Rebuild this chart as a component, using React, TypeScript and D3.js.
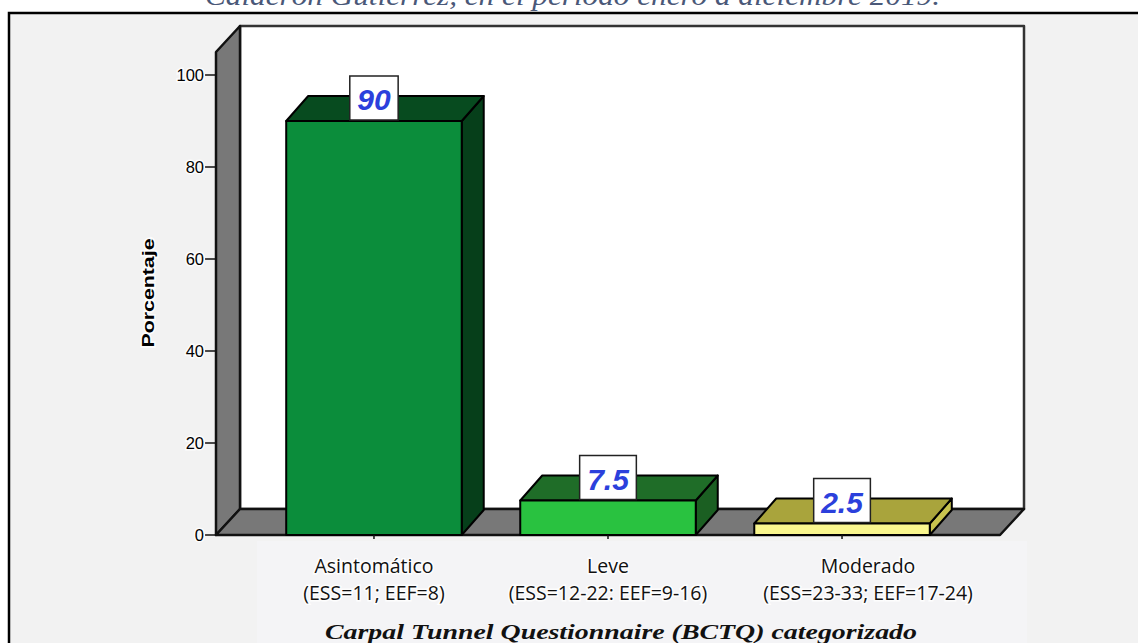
import React from "react";
import * as d3 from "d3";

const categories = ["Asintomático", "Leve", "Moderado"];
const subLabels = ["(ESS=11; EEF=8)", "(ESS=12-22: EEF=9-16)", "(ESS=23-33; EEF=17-24)"];
const values = [90, 7.5, 2.5];
const valueLabels = ["90", "7.5", "2.5"];
const yTicks = [0, 20, 40, 60, 80, 100];
const frontColors = ["#0b8d3b", "#29c240", "#f9f68e"];
const topColors = ["#074b1f", "#1f6d28", "#a9a43c"];
const sideColors = ["#063f1a", "#1b5f22", "#c8c34f"];

const W = 1138;
const H = 643;

export default function App() {
  const y = d3.scaleLinear().domain([0, 105]).range([535, 52]);
  const x = d3.scaleBand<string>().domain(categories).range([216, 1000]).paddingInner(0.25).paddingOuter(0.3);
  const wdx = 24, wdy = -26; // wall depth
  const bdx = 22, bdy = -25; // bar depth
  const y0 = y(0);
  const yTop = y(105);
  const xL = 216, xR = 1000;
  const bw = x.bandwidth();
  const pts = (a: number[][]) => a.map((p) => p.join(",")).join(" ");
  const halo = { stroke: "#fff", strokeWidth: 3, strokeOpacity: 0.85, paintOrder: "stroke" as const };
  const charW = (s: string) => s.split("").reduce((acc, c) => acc + (c === "." ? 0.278 : 0.556), 0);

  return (
    <svg width={W} height={H} style={{ position: "absolute", left: 0, top: 0 }}>
      <rect x={0} y={0} width={W} height={H} fill="#ffffff" />
      <text x={205} y={5} fontFamily="Liberation Serif, serif" fontStyle="italic" fontSize={27} fill="#4a5878" textLength={735} lengthAdjust="spacingAndGlyphs">
        Calderón Gutiérrez, en el periodo enero a diciembre 2019.
      </text>
      <rect x={9} y={13} width={W + 20} height={H + 20} fill="#f2f2f2" stroke="#000" strokeWidth={2.5} />
      <rect x={257} y={541} width={770} height={110} fill="#f4f4f6" />

      {/* back wall */}
      <polygon points={pts([[xL + wdx, yTop + wdy], [xR + wdx, yTop + wdy], [xR + wdx, y0 + wdy], [xL + wdx, y0 + wdy]])} fill="#ffffff" stroke="#333" strokeWidth={2.5} strokeLinejoin="round" />
      {/* left wall */}
      <polygon points={pts([[xL, yTop], [xL + wdx, yTop + wdy], [xL + wdx, y0 + wdy], [xL, y0]])} fill="#787878" stroke="#111" strokeWidth={2.5} strokeLinejoin="round" />
      {/* floor */}
      <polygon points={pts([[xL, y0], [xL + wdx, y0 + wdy], [xR + wdx, y0 + wdy], [xR, y0]])} fill="#787878" stroke="#111" strokeWidth={2.5} strokeLinejoin="round" />

      {/* y ticks */}
      {yTicks.map((t) => (
        <g key={t}>
          <line x1={205} x2={xL} y1={y(t)} y2={y(t)} stroke="#111" strokeWidth={1.5} />
          <text x={204} y={y(t) + 6} textAnchor="end" fontFamily="Liberation Sans, Arial, sans-serif" fontSize={16.5} fill="#000" {...halo}>
            {t}
          </text>
        </g>
      ))}
      <text transform={`translate(154,293) rotate(-90)`} textAnchor="middle" fontFamily="Liberation Sans, Arial, sans-serif" fontWeight="bold" fontSize={17} fill="#000" textLength={109} lengthAdjust="spacingAndGlyphs" {...halo}>
        Porcentaje
      </text>

      {/* bars */}
      {categories.map((c, i) => {
        const bx = x(c)!;
        const yv = y(values[i]);
        return (
          <g key={c} stroke="#000" strokeWidth={2} strokeLinejoin="round">
            <polygon points={pts([[bx + bw, yv], [bx + bw + bdx, yv + bdy], [bx + bw + bdx, y0 + bdy], [bx + bw, y0]])} fill={sideColors[i]} />
            <polygon points={pts([[bx, yv], [bx + bdx, yv + bdy], [bx + bw + bdx, yv + bdy], [bx + bw, yv]])} fill={topColors[i]} />
            <rect x={bx} y={yv} width={bw} height={y0 - yv} fill={frontColors[i]} />
          </g>
        );
      })}

      {/* x ticks */}
      {categories.map((c) => (
        <line key={c} x1={x(c)! + bw / 2} x2={x(c)! + bw / 2} y1={y0} y2={y0 + 4} stroke="#111" strokeWidth={1.5} />
      ))}

      {/* value labels */}
      {categories.map((c, i) => {
        const cx = x(c)! + bw / 2;
        const yv = y(values[i]);
        const bwid = charW(valueLabels[i]) * 30 + 15;
        return (
          <g key={c}>
            <rect x={cx - bwid / 2} y={yv - 45} width={bwid} height={44} fill="#fff" stroke="#222" strokeWidth={1.5} />
            <text x={cx} y={yv - 11} textAnchor="middle" fontFamily="Liberation Sans, Arial, sans-serif" fontStyle="italic" fontWeight="bold" fontSize={30} fill="#2b40dc">
              {valueLabels[i]}
            </text>
          </g>
        );
      })}

      {/* x labels */}
      {categories.map((c, i) => {
        const cx = x(c)! + bw / 2 + (i === categories.length - 1 ? 26 : 0);
        return (
          <g key={c} fontFamily="Open Sans, sans-serif" fontSize={19.5} fill="#111" textAnchor="middle">
            <text x={cx} y={573} {...halo}>{c}</text>
            <text x={cx} y={600} {...halo}>{subLabels[i]}</text>
          </g>
        );
      })}

      <text x={621} y={639} textAnchor="middle" fontFamily="Liberation Serif, serif" fontStyle="italic" fontWeight="bold" fontSize={21} fill="#111" textLength={592} lengthAdjust="spacingAndGlyphs">
        Carpal Tunnel Questionnaire (BCTQ) categorizado
      </text>
    </svg>
  );
}
